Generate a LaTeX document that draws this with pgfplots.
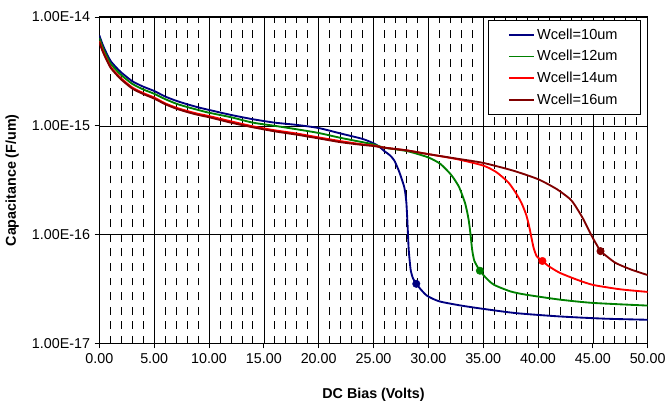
\documentclass[border=0pt]{standalone}
\usepackage{pgfplots}
\pgfplotsset{compat=1.18}
\usepackage{fontspec}
\setmainfont{Liberation Sans}
\definecolor{cblue}{RGB}{0,0,128}
\definecolor{cgreen}{RGB}{0,128,0}
\definecolor{cred}{RGB}{255,0,0}
\definecolor{cdred}{RGB}{128,0,0}
\begin{document}
\begin{tikzpicture}
\begin{axis}[
  scale only axis, width=414pt, height=246.75pt,
  xmin=0, xmax=50, ymode=log, ymin=1e-17, ymax=1e-14,
  xtick={0,5,...,50},
  xticklabels={0.00,5.00,10.00,15.00,20.00,25.00,30.00,35.00,40.00,45.00,50.00},
  ytick={1e-17,1e-16,1e-15,1e-14},
  yticklabels={1.00E-17,1.00E-16,1.00E-15,1.00E-14},
  minor xtick={1,2,3,4,6,7,8,9,11,12,13,14,16,17,18,19,21,22,23,24,26,27,28,29,31,32,33,34,36,37,38,39,41,42,43,44,46,47,48,49},
  minor ytick={},
  xmajorgrids, ymajorgrids, xminorgrids,
  major grid style={black, line width=0.5pt},
  minor grid style={black, line width=0.6pt, dash pattern=on 6pt off 5pt},
  minor tick length=0pt, major tick length=3.5pt, tick align=outside,
  xtick pos=bottom, ytick pos=left,
  tick style={black, line width=0.6pt},
  axis line style={black, line width=0.8pt},
  ticklabel style={font=\fontsize{10.8}{12}\selectfont},
  xlabel={DC Bias (Volts)}, ylabel={Capacitance (F/um)},
  label style={font=\fontsize{10.8}{12}\selectfont\bfseries},
  xlabel style={at={(axis description cs:0.5,-0.155)}, anchor=center},
  ylabel style={at={(axis description cs:-0.159,0.5)}, anchor=center},
  legend style={at={(0.987,0.99)}, anchor=north east, draw=black, line width=0.6pt,
    font=\fontsize{11}{12}\selectfont, row sep=2.9pt, inner xsep=15pt, inner ysep=4pt, fill=white},
  legend cell align=left,
  legend image code/.code={\draw[#1, line width=1.4pt] (0pt,0pt) -- (18.5pt,0pt);},
]
\addplot[cblue, line width=1.4pt, smooth, tension=0.4] coordinates {
(0,6.76e-15) (0.25,5.75e-15) (0.5,5.01e-15) (1,3.98e-15) (1.5,3.47e-15) (2,3.09e-15)
(3,2.57e-15) (4,2.29e-15) (5,2.09e-15) (6,1.86e-15) (7,1.70e-15) (8,1.58e-15)
(9,1.48e-15) (10,1.40e-15) (12,1.26e-15) (14,1.15e-15) (16,1.07e-15) (18,1.02e-15)
(20,9.55e-16) (22,8.51e-16) (24,7.59e-16) (25,6.92e-16) (25.5,6.46e-16) (26,5.85e-16)
(26.5,5.37e-16) (26.9,4.8e-16) (27.3,3.89e-16) (27.55,3.3e-16) (27.8,2.75e-16)
(27.9,2.4e-16) (28.0,1.95e-16) (28.1,1.26e-16) (28.2,7.59e-17) (28.3,5.75e-17)
(28.4,4.68e-17) (28.6,3.98e-17) (28.9,3.55e-17) (29.3,3.16e-17) (29.9,2.75e-17)
(31,2.45e-17) (33,2.24e-17) (35,2.09e-17) (38,1.91e-17) (42,1.78e-17) (46,1.70e-17) (50,1.66e-17)
};
\addlegendentry{Wcell=10um}
\addplot[cgreen, line width=1.4pt, smooth, tension=0.4] coordinates {
(0,6.4e-15) (0.25,5.43e-15) (0.5,4.73e-15) (1,3.76e-15) (1.5,3.28e-15) (2,2.92e-15)
(3,2.43e-15) (4,2.16e-15) (5,1.97e-15) (6,1.76e-15) (7,1.60e-15) (8,1.49e-15)
(9,1.40e-15) (10,1.32e-15) (12,1.20e-15) (14,1.07e-15) (16,1.0e-15) (18,9.3e-16)
(20,8.6e-16) (22,7.76e-16) (24,7.08e-16) (25,6.76e-16) (26,6.3e-16) (28.1,5.85e-16)
(30,5.13e-16) (31.1,4.47e-16) (32,3.63e-16) (32.4,3.2e-16) (32.8,2.75e-16) (33.1,2.3e-16)
(33.35,1.95e-16) (33.55,1.6e-16) (33.7,1.32e-16) (33.85,1.0e-16) (34.0,7.24e-17)
(34.2,5.75e-17) (34.7,4.68e-17) (35.3,3.98e-17) (36.0,3.47e-17) (37.5,3.02e-17)
(38.9,2.82e-17) (42,2.54e-17) (45,2.37e-17) (50,2.24e-17)
};
\addlegendentry{Wcell=12um}
\addplot[cred, line width=1.4pt, smooth, tension=0.4] coordinates {
(0,6.0e-15) (0.25,5.1e-15) (0.5,4.45e-15) (1,3.52e-15) (1.5,3.06e-15) (2,2.72e-15)
(3,2.25e-15) (4,2.0e-15) (5,1.82e-15) (6,1.61e-15) (7,1.47e-15) (8,1.37e-15)
(9,1.29e-15) (10,1.23e-15) (12,1.10e-15) (14,9.9e-16) (16,9.1e-16) (18,8.5e-16)
(20,7.83e-16) (22,7.24e-16) (24,6.76e-16) (25,6.6e-16) (26,6.31e-16) (28,5.96e-16)
(30,5.5e-16) (32.6,4.95e-16) (35,4.32e-16) (36.2,3.76e-16) (37.3,3.02e-16)
(38.0,2.40e-16) (38.5,1.95e-16) (38.9,1.55e-16) (39.15,1.25e-16) (39.35,1.0e-16)
(39.6,7.59e-17) (39.9,6.31e-17) (40.4,5.75e-17) (41.0,5.13e-17) (42,4.47e-17)
(43.5,3.89e-17) (45,3.47e-17) (47.5,3.16e-17) (50,2.99e-17)
};
\addlegendentry{Wcell=14um}
\addplot[cdred, line width=1.4pt, smooth, tension=0.4] coordinates {
(0,5.85e-15) (0.25,4.98e-15) (0.5,4.35e-15) (1,3.45e-15) (1.5,3.0e-15) (2,2.66e-15)
(3,2.2e-15) (4,1.96e-15) (5,1.78e-15) (6,1.58e-15) (7,1.44e-15) (8,1.34e-15)
(9,1.26e-15) (10,1.20e-15) (12,1.07e-15) (14,9.7e-16) (16,8.9e-16) (18,8.3e-16)
(20,7.67e-16) (22,7.08e-16) (24,6.68e-16) (25,6.53e-16) (26,6.3e-16) (28,5.96e-16)
(30,5.5e-16) (32.6,5.0e-16) (35,4.57e-16) (37.7,3.89e-16) (40,3.24e-16) (41.7,2.63e-16)
(42.9,2.14e-16) (43.3,1.91e-16) (43.75,1.62e-16)
(44.1,1.41e-16) (44.4,1.23e-16) (44.7,1.07e-16) (45.0,9.33e-17) (45.4,7.94e-17)
(45.7,7.08e-17) (46.3,6.31e-17) (47.1,5.50e-17) (48.5,4.79e-17) (50,4.27e-17)
};
\addlegendentry{Wcell=16um}
\addplot[cblue, only marks, mark=*, mark size=2.8pt, forget plot] coordinates {(28.9,3.55e-17)};
\addplot[cgreen, only marks, mark=*, mark size=2.8pt, forget plot] coordinates {(34.7,4.68e-17)};
\addplot[cred, only marks, mark=*, mark size=2.8pt, forget plot] coordinates {(40.4,5.75e-17)};
\addplot[cdred, only marks, mark=*, mark size=2.8pt, forget plot] coordinates {(45.7,7.08e-17)};
\end{axis}
\path (current axis.south west) ++(-75pt,-46.5pt) coordinate (bbsw);
\path (current axis.north east) ++(13.5pt,12.75pt) coordinate (bbne);
\path (bbsw) rectangle (bbne);
\end{tikzpicture}
\end{document}
